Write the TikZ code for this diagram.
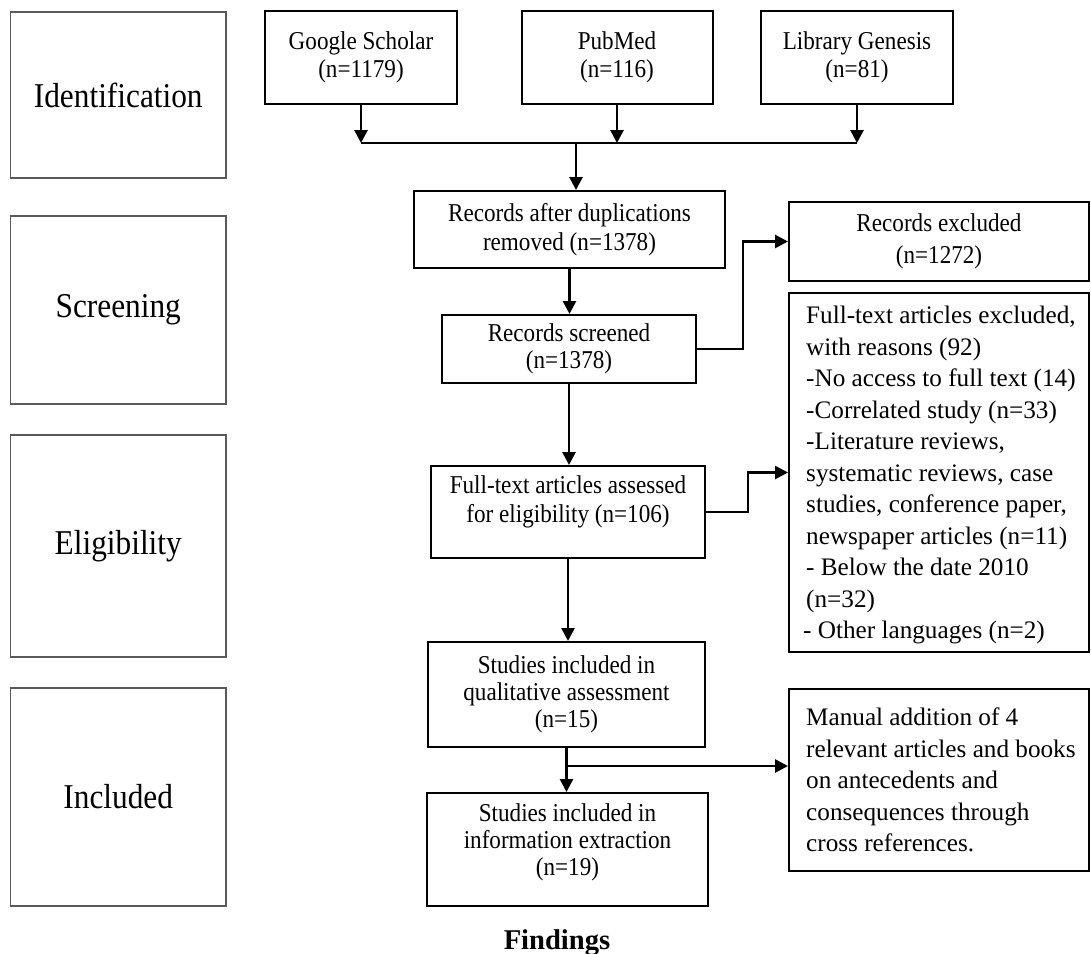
\documentclass[tikz,border=0pt]{standalone}
\usepackage{fontspec}
\setmainfont{Liberation Serif}
\newfontfamily\condfont[FakeStretch=0.9]{Liberation Serif}
\usetikzlibrary{arrows.meta}
\definecolor{stagegray}{HTML}{5A5A5A}
\tikzset{
  stage/.style={draw=stagegray, line width=1.3pt, inner sep=0pt, align=center,
    font=\condfont\fontsize{34.8}{40}\selectfont},
  cbox/.style={draw=black, line width=2pt, inner sep=0pt, align=center,
    font=\condfont\fontsize{25.7}{28.5}\selectfont},
  ctxt/.style={inner sep=0pt, align=center, font=\condfont\fontsize{25.7}{28.5}\selectfont},
  rbox/.style={draw=black, line width=2pt, inner sep=0pt, align=center,
    minimum width=300pt, font=\condfont\fontsize{25.7}{32}\selectfont},
  rtxt/.style={inner sep=0pt, align=left, anchor=west,
    font=\fontsize{25.2}{31.5}\selectfont},
  arr/.style={line width=2.7pt, -{Triangle[width=13pt,length=13pt]}},
  thinline/.style={line width=1.3pt},
}
\begin{document}
\begin{tikzpicture}[x=1pt,y=-1pt]
\useasboundingbox (0,0) rectangle (1091,953);

% stage boxes
\node[stage, minimum width=215.5pt, minimum height=166pt] (ident) at (118.25,95) {Identification};
\node[stage, minimum width=215.5pt, minimum height=188pt] (screen) at (118.25,310) {Screening};
\node[stage, minimum width=215.5pt, minimum height=222pt] (elig) at (118.25,546) {Eligibility};
\node[stage, minimum width=215.5pt, minimum height=218pt] (incl) at (118.25,797) {Included};

% sources
\node[cbox, minimum width=192pt, minimum height=93pt] (gs) at (361,57.5) {Google Scholar\\(n=1179)};
\node[cbox, minimum width=191pt, minimum height=93pt] (pm) at (617,57.5) {PubMed\\(n=116)};
\node[cbox, minimum width=192pt, minimum height=93pt] (lg) at (857,57.5) {Library Genesis\\(n=81)};

% main column
\node[cbox, minimum width=311pt, minimum height=77pt] (recdup) at (569.5,229.5) {Records after duplications\\removed (n=1378)};
\node[cbox, minimum width=254pt, minimum height=68pt, font=\condfont\fontsize{25.7}{27}\selectfont] (recscr) at (569,349) {Records screened\\(n=1378)};
\node[cbox, minimum width=274pt, minimum height=92pt] (fta) at (568,512) {};
\node[ctxt] (ftat) at (568,502) {Full-text articles assessed\\for eligibility (n=106)};
\node[cbox, minimum width=277pt, minimum height=105pt, font=\condfont\fontsize{25.7}{27}\selectfont] (squal) at (566.5,694.5) {Studies included in\\qualitative assessment\\(n=15)};
\node[cbox, minimum width=281pt, minimum height=113pt] (sinfo) at (567.5,849.5) {};
\node[ctxt, font=\condfont\fontsize{25.7}{27}\selectfont] (sinfot) at (567.5,842) {Studies included in\\information extraction\\(n=19)};

% right column
\node[rbox, minimum height=79pt] (rexc) at (939,241.5) {Records excluded\\(n=1272)};
\node[rbox, minimum height=359pt] (ftexc) at (939,472.5) {};
\node[rtxt] (ftexct) at (806,475) {Full-text articles excluded,\\with reasons (92)\\-No access to full text (14)\\-Correlated study (n=33)\\-Literature reviews,\\systematic reviews, case\\studies, conference paper,\\newspaper articles (n=11)\\- Below the date 2010\\(n=32)\\\hspace*{-3pt}- Other languages (n=2)};
\node[rbox, minimum height=182pt] (man) at (939,780) {};
\node[rtxt] (mant) at (806,780) {Manual addition of 4\\relevant articles and books\\on antecedents and\\consequences through\\cross references.};

% caption
\node[inner sep=0pt, anchor=base, font=\fontsize{28.6}{34}\selectfont\bfseries] (find) at (557,949) {Findings};

% joins
\coordinate (jl) at (361,143);
\coordinate (jr) at (857,143);
\coordinate (jd) at (576,143);
\coordinate (br) at (566.5,766);

\draw[thinline] (jl) -- (jr);
\draw[arr] (gs.south) -- (gs.south |- jl);
\draw[arr] (pm.south) -- (pm.south |- jl);
\draw[arr] (lg.south) -- (lg.south |- jr);
\draw[arr] (jd) -- (jd |- recdup.north);
\draw[arr] (recdup.south) -- (recdup.south |- recscr.north);
\draw[arr] (recscr.east) -- ++(46,0) |- (rexc.west);
\draw[arr] (recscr.south) -- (recscr.south |- fta.north);
\draw[arr] (fta.east) -- ++(42,0) |- (ftexc.west);
\draw[arr] (fta.south) -- (fta.south |- squal.north);
\draw[arr] (squal.south) -- (squal.south |- sinfo.north);
\draw[arr] (br) -- (br -| man.west);
\end{tikzpicture}
\end{document}
